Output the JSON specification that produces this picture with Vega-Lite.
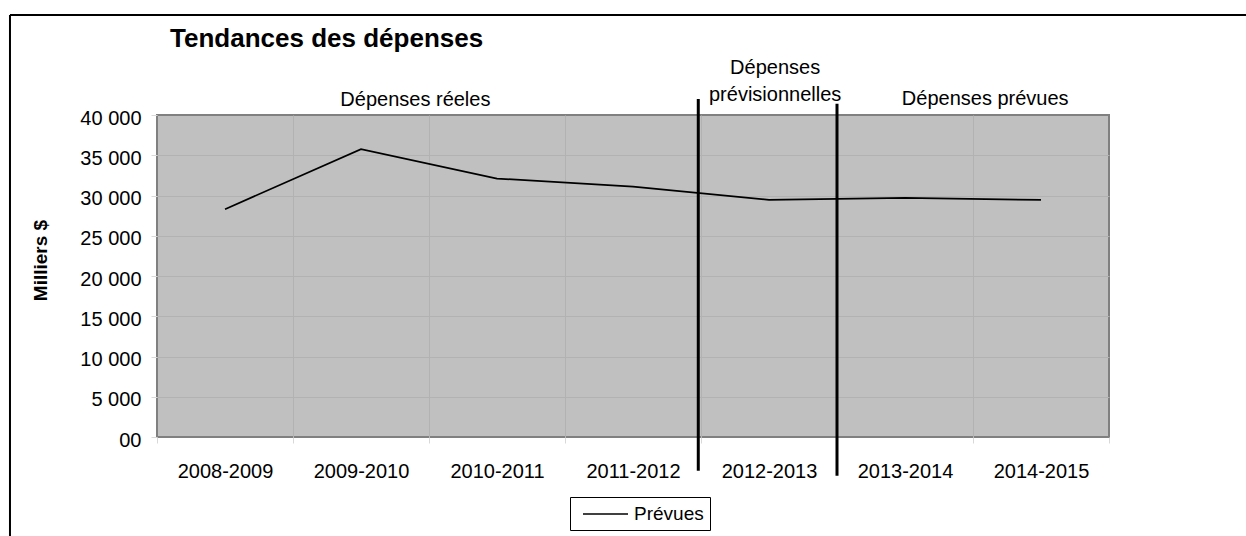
{
  "$schema": "https://vega.github.io/schema/vega-lite/v6.json",
  "usermeta": {"embedOptions": {"actions": false}},
  "width": 952,
  "height": 322,
  "autosize": "none",
  "padding": {"left": 157, "top": 115, "right": 137, "bottom": 99},
  "background": "white",
  "config": {
    "font": "Liberation Sans",
    "view": {"fill": "#c0c0c0", "stroke": "#808080", "strokeWidth": 2}
  },
  "data": {
    "values": [
      {"exercice": "2008-2009", "ordre": 0, "depenses": 28300, "serie": "Prévues"},
      {"exercice": "2009-2010", "ordre": 1, "depenses": 35750, "serie": "Prévues"},
      {"exercice": "2010-2011", "ordre": 2, "depenses": 32100, "serie": "Prévues"},
      {"exercice": "2011-2012", "ordre": 3, "depenses": 31100, "serie": "Prévues"},
      {"exercice": "2012-2013", "ordre": 4, "depenses": 29450, "serie": "Prévues"},
      {"exercice": "2013-2014", "ordre": 5, "depenses": 29700, "serie": "Prévues"},
      {"exercice": "2014-2015", "ordre": 6, "depenses": 29450, "serie": "Prévues"}
    ]
  },
  "layer": [
    {
      "data": {"values": [{}]},
      "mark": {"type": "rule", "color": "black", "strokeWidth": 2},
      "encoding": {
        "x": {"datum": -1.581, "type": "quantitative"},
        "x2": {"datum": 7.6},
        "y": {"datum": 52422, "type": "quantitative"}
      }
    },
    {
      "data": {"values": [{}]},
      "mark": {"type": "rule", "color": "black", "strokeWidth": 2},
      "encoding": {
        "x": {"datum": -1.581, "type": "quantitative"},
        "y": {"datum": 52422, "type": "quantitative"},
        "y2": {"datum": -13000}
      }
    },
    {
      "mark": {"type": "line", "color": "black", "strokeWidth": 1.75},
      "encoding": {
        "x": {
          "field": "ordre",
          "type": "quantitative",
          "scale": {"domain": [-0.5, 6.5], "nice": false, "zero": false},
          "axis": {
            "title": null,
            "values": [-0.5, 0.5, 1.5, 2.5, 3.5, 4.5, 5.5, 6.5],
            "grid": true,
            "gridColor": "#b2b2b2",
            "gridOpacity": {"condition": {"test": "datum.value < 0 || datum.value > 6", "value": 0}, "value": 1},
            "domain": false,
            "tickColor": "#d9d9d9",
            "tickSize": 6,
            "labelOffset": 68,
            "labelFlush": false,
            "labelOverlap": false,
            "labelBound": false,
            "labelFontSize": 20,
            "labelColor": "black",
            "labelBaseline": "top",
            "labelPadding": 18,
            "labelExpr": "datum.value < 6 ? ['2008-2009','2009-2010','2010-2011','2011-2012','2012-2013','2013-2014','2014-2015'][round(datum.value + 0.5)] : ''"
          }
        },
        "y": {
          "field": "depenses",
          "type": "quantitative",
          "scale": {"domain": [0, 40000], "nice": false},
          "axis": {
            "title": "Milliers $",
            "titleFontSize": 19,
            "titleFontWeight": "bold",
            "titleColor": "black",
            "titleAngle": -90,
            "titleAlign": "center",
            "titleBaseline": "alphabetic",
            "titleX": -111,
            "titleY": 145,
            "values": [0, 5000, 10000, 15000, 20000, 25000, 30000, 35000, 40000],
            "grid": true,
            "gridColor": "#b2b2b2",
            "gridOpacity": {"condition": {"test": "datum.value == 0 || datum.value == 40000", "value": 0}, "value": 1},
            "domain": false,
            "tickColor": "#d9d9d9",
            "tickSize": 6,
            "labelPadding": 10,
            "labelFontSize": 20,
            "labelColor": "black",
            "labelBaseline": "alphabetic",
            "labelOffset": 9,
            "labelOverlap": false,
            "labelExpr": "datum.value == 0 ? '00' : format(datum.value / 1000, 'd') + ' 000'"
          }
        },
        "stroke": {
          "field": "serie",
          "type": "nominal",
          "scale": {"range": ["#000000"]},
          "legend": {
            "orient": "none",
            "legendX": 413,
            "legendY": 382,
            "title": null,
            "strokeColor": "black",
            "fillColor": "white",
            "padding": 6,
            "symbolType": "M-0.4,0H4.1",
            "symbolSize": 400,
            "symbolStrokeWidth": 1.5,
            "symbolStrokeColor": "black",
            "labelFontSize": 19,
            "labelColor": "black",
            "labelOffset": 36
          }
        }
      }
    },
    {
      "data": {"values": [{}]},
      "mark": {"type": "rule", "color": "black", "strokeWidth": 3},
      "encoding": {
        "x": {"datum": 3.48, "type": "quantitative"},
        "y": {"datum": 42000, "type": "quantitative"},
        "y2": {"datum": -4200}
      }
    },
    {
      "data": {"values": [{}]},
      "mark": {"type": "rule", "color": "black", "strokeWidth": 3},
      "encoding": {
        "x": {"datum": 4.5, "type": "quantitative"},
        "y": {"datum": 41400, "type": "quantitative"},
        "y2": {"datum": -4800}
      }
    },
    {
      "data": {"values": [{}]},
      "mark": {"type": "text", "align": "left", "baseline": "alphabetic", "fontSize": 26, "fontWeight": "bold", "fill": "black", "text": "Tendances des dépenses"},
      "encoding": {
        "x": {"datum": -0.404, "type": "quantitative"},
        "y": {"datum": 48447, "type": "quantitative"}
      }
    },
    {
      "data": {"values": [{}]},
      "mark": {"type": "text", "align": "center", "baseline": "alphabetic", "fontSize": 20, "fill": "black", "text": "Dépenses réeles"},
      "encoding": {
        "x": {"datum": 1.4, "type": "quantitative"},
        "y": {"datum": 41100, "type": "quantitative"}
      }
    },
    {
      "data": {"values": [{}]},
      "mark": {"type": "text", "align": "center", "baseline": "alphabetic", "fontSize": 20, "fill": "black", "lineHeight": 27, "text": ["Dépenses", "prévisionnelles"]},
      "encoding": {
        "x": {"datum": 4.045, "type": "quantitative"},
        "y": {"datum": 45100, "type": "quantitative"}
      }
    },
    {
      "data": {"values": [{}]},
      "mark": {"type": "text", "align": "center", "baseline": "alphabetic", "fontSize": 20, "fill": "black", "text": "Dépenses prévues"},
      "encoding": {
        "x": {"datum": 5.59, "type": "quantitative"},
        "y": {"datum": 41250, "type": "quantitative"}
      }
    }
  ]
}
